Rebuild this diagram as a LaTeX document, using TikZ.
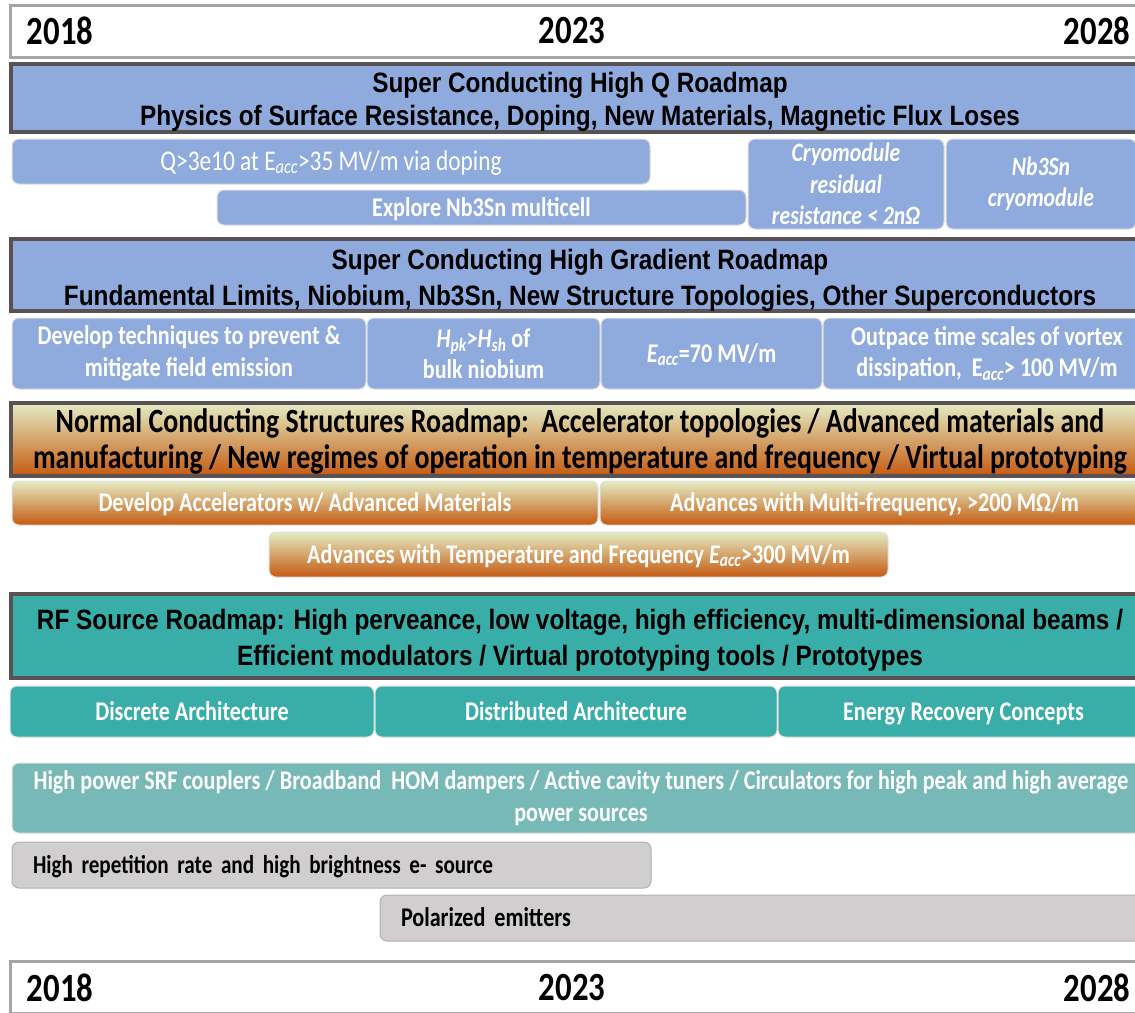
\documentclass[tikz,border=0pt]{standalone}
\usepackage{fontspec}
\setmainfont{Carlito}[FakeStretch=0.82]
\newfontfamily\arialfont{Liberation Sans}[FakeStretch=0.87]
\usetikzlibrary{positioning}
\definecolor{scblue}{RGB}{143,170,220}
\definecolor{hdrgray}{RGB}{90,82,82}
\definecolor{yeargray}{RGB}{166,166,166}
\definecolor{rfteal}{RGB}{57,173,167}
\definecolor{lteal}{RGB}{119,185,182}
\definecolor{boxgray}{RGB}{208,206,206}
\definecolor{nctop}{RGB}{228,236,196}
\definecolor{ncmid}{RGB}{222,190,130}
\definecolor{ncbot}{RGB}{197,90,17}

\begin{document}
\begin{tikzpicture}[x=1pt, y=-1pt,
    yearbar/.style={draw=yeargray, line width=3pt, fill=white, minimum width=1135pt, minimum height=52pt, inner sep=0pt},
    yeartext/.style={font=\fontsize{40}{44}\selectfont\bfseries, inner sep=0pt},
    roadmap/.style={draw=hdrgray, line width=3.5pt, inner sep=0pt, minimum width=1138pt},
    roadtext/.style={inner sep=0pt, align=center, font=\arialfont\fontsize{28}{36}\selectfont\bfseries},
    item/.style={rounded corners=7pt, draw=white!75!gray, line width=1pt, inner sep=0pt, align=center,
        text=white, font=\fontsize{27}{31.5}\selectfont\bfseries},
    oneline/.style={text height=17.5pt, text depth=0pt},
    scitem/.style={item, fill=scblue},
    ncitem/.style={item, oneline, top color=nctop, middle color=ncmid, bottom color=ncbot},
    rfitem/.style={item, oneline, fill=rfteal},
    eitem/.style={item, oneline, fill=boxgray, text=black, align=left, draw=gray!60, inner xsep=21pt}
]
    \clip (0,0) rectangle (1135,1012);

    % Time axis on top
    \node[yearbar] (topbar) at (577.5,31) {};
    \node[yeartext] (top18) at (60,31) {2018};
    \node[yeartext] (top23) at (572,31) {2023};
    \node[yeartext] (top28) at (1097,31) {2028};

    % Super conducting high Q
    \node[roadmap, fill=scblue, minimum height=68pt] (hq) at (580,98) {};
    \node[roadtext, font=\arialfont\fontsize{28}{33}\selectfont\bfseries] (hqtext) at ([yshift=-4pt]hq.center)
        {Super Conducting High Q Roadmap\\Physics of Surface Resistance, Doping, New Materials, Magnetic Flux Loses};
    \node[scitem, oneline, minimum width=638pt, minimum height=45pt, font=\fontsize{28.5}{31.5}\selectfont] (qdope) at (331,161.5)
        {Q>3e10 at E\textsubscript{\itshape acc}>35 MV/m via doping};
    \node[scitem, oneline, minimum width=529pt, minimum height=35pt] (nbexp) at (481.5,207.5) {Explore Nb3Sn multicell};
    \node[scitem, minimum width=196pt, minimum height=90pt, font=\fontsize{26.5}{31.5}\selectfont\bfseries\itshape] (cryores) at (846,184)
        {Cryomodule\\residual\\resistance < 2nΩ};
    \node[scitem, minimum width=190pt, minimum height=90pt, font=\fontsize{26.5}{31.5}\selectfont\bfseries\itshape] (nbcryo) at (1041,184)
        {Nb3Sn\\cryomodule};

    % Super conducting high gradient
    \node[roadmap, fill=scblue, minimum height=72pt] (hg) at (580,275) {};
    \node[roadtext] (hgtext) at ([yshift=-5pt]hg.center)
        {Super Conducting High Gradient Roadmap\\Fundamental Limits, Niobium, Nb3Sn, New Structure Topologies, Other Superconductors};
    \node[scitem, minimum width=354pt, minimum height=71pt] (devtech) at (189,353.5)
        {Develop techniques to prevent \&\\mitigate field emission};
    \node[scitem, minimum width=233pt, minimum height=71pt] (hpk) at (483.5,353.5)
        {\textit{H\textsubscript{pk}}>\textit{H\textsubscript{sh}} of\\bulk niobium};
    \node[scitem, oneline, minimum width=221pt, minimum height=71pt] (eacc) at (711.5,353.5)
        {\textit{E\textsubscript{acc}}=70 MV/m};
    \node[scitem, minimum width=328pt, minimum height=71pt] (outpace) at (987,353.5)
        {Outpace time scales of vortex\\dissipation,\ \ E\textsubscript{\itshape acc}> 100 MV/m};

    % Normal conducting structures
    \node[roadmap, top color=nctop, middle color=nctop!50!ncmid, bottom color=ncbot, minimum height=73pt] (nc) at (580,439.5) {};
    \node[roadtext, font=\fontsize{34}{36}\selectfont\bfseries] (nctext) at ([yshift=-2pt]nc.center)
        {Normal Conducting Structures Roadmap:\ \ Accelerator topologies / Advanced materials and\\manufacturing / New regimes of operation in temperature and frequency / Virtual prototyping};
    \node[ncitem, minimum width=586pt, minimum height=44pt] (ncmat) at (305,503) {Develop Accelerators w/ Advanced Materials};
    \node[ncitem, minimum width=549pt, minimum height=44pt] (ncmulti) at (874.5,503) {Advances with Multi-frequency, >200 MΩ/m};
    \node[ncitem, minimum width=619pt, minimum height=45pt] (nctemp) at (578.5,554.5)
        {Advances with Temperature and Frequency \textit{E\textsubscript{acc}}>300 MV/m};

    % RF sources
    \node[roadmap, fill=rfteal, minimum height=84pt] (rf) at (580,636) {};
    \node[roadtext] (rftext) at ([yshift=-4pt]rf.center)
        {RF Source Roadmap: High perveance, low voltage, high efficiency, multi-dimensional beams /\\Efficient modulators / Virtual prototyping tools / Prototypes};
    \node[rfitem, minimum width=364pt, minimum height=51pt] (rfdisc) at (192,711.5) {Discrete Architecture};
    \node[rfitem, minimum width=402pt, minimum height=51pt] (rfdist) at (576,711.5) {Distributed Architecture};
    \node[rfitem, minimum width=371pt, minimum height=51pt] (rferc) at (963.5,711.5) {Energy Recovery Concepts};
    \node[item, fill=lteal, minimum width=1138pt, minimum height=70pt] (coupler) at (581,798)
        {High power SRF couplers / Broadband\ \ HOM dampers / Active cavity tuners / Circulators for high peak and high average\\power sources};

    % Electron sources
    \node[eitem, text width=597pt, minimum height=46pt, font=\fontsize{25.8}{31.5}\selectfont\bfseries] (erep) at (331.5,865)
        {High repetition rate and high brightness e- source};
    \node[eitem, text width=728pt, minimum height=46pt] (polem) at (765,918)
        {Polarized emitters};

    % Time axis at the bottom
    \node[yearbar] (botbar) at (577.5,987) {};
    \node[yeartext] (bot18) at (60,988) {2018};
    \node[yeartext] (bot23) at (572,988) {2023};
    \node[yeartext] (bot28) at (1097,988) {2028};
\end{tikzpicture}
\end{document}
